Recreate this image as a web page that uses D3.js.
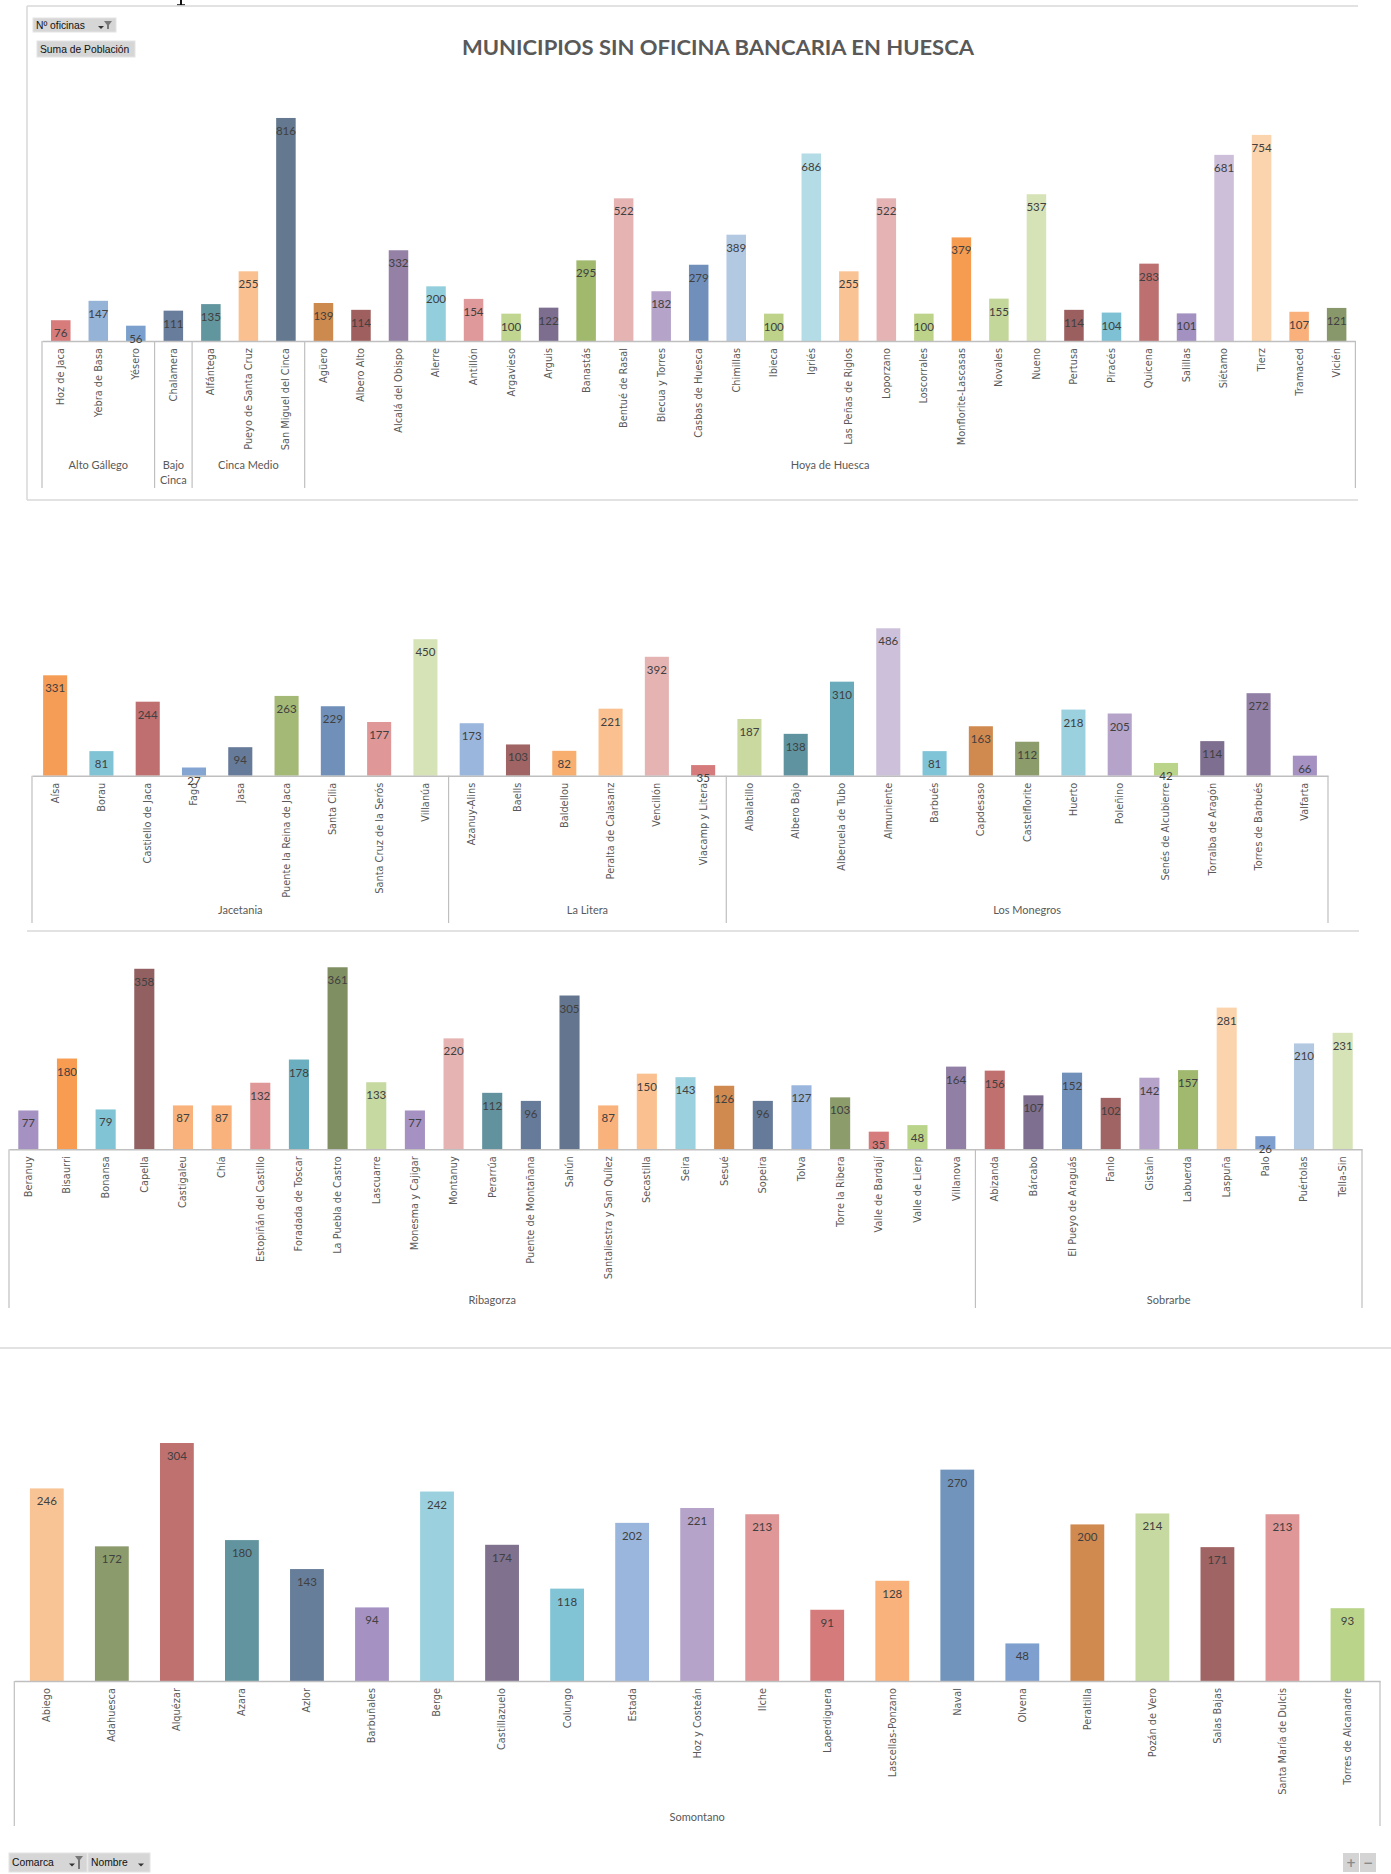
<!DOCTYPE html>
<html><head><meta charset="utf-8">
<script src="https://cdn.jsdelivr.net/npm/d3@7"></script>
<style>body{margin:0;background:#fff}svg{display:block}</style>
</head><body><svg id="c" width="1391" height="1874"></svg>
<script>
// ---------------- DATA ----------------
const title = "MUNICIPIOS SIN OFICINA BANCARIA EN HUESCA";

const names1 = ["Hoz de Jaca","Yebra de Basa","Yésero","Chalamera","Alfántega","Pueyo de Santa Cruz","San Miguel del Cinca","Agüero","Albero Alto","Alcalá del Obispo","Alerre","Antillón","Argavieso","Arguis","Banastás","Bentué de Rasal","Blecua y Torres","Casbas de Huesca","Chimillas","Ibieca","Igriés","Las Peñas de Riglos","Loporzano","Loscorrales","Monflorite-Lascasas","Novales","Nueno","Pertusa","Piracés","Quicena","Salillas","Siétamo","Tierz","Tramaced","Vicién"];
const values1 = [76,147,56,111,135,255,816,139,114,332,200,154,100,122,295,522,182,279,389,100,686,255,522,100,379,155,537,114,104,283,101,681,754,107,121];
const groups1 = ["Alto Gállego","Bajo Cinca","Cinca Medio","Hoya de Huesca"];
const groupSizes1 = [3,1,3,28];

const names2 = ["Aísa","Borau","Castiello de Jaca","Fago","Jasa","Puente la Reina de Jaca","Santa Cilia","Santa Cruz de la Serós","Villanúa","Azanuy-Alins","Baells","Baldellou","Peralta de Calasanz","Vencillón","Viacamp y Litera","Albalatillo","Albero Bajo","Alberuela de Tubo","Almuniente","Barbués","Capdesaso","Castelflorite","Huerto","Poleñino","Senés de Alcubierre","Torralba de Aragón","Torres de Barbués","Valfarta"];
const values2 = [331,81,244,27,94,263,229,177,450,173,103,82,221,392,35,187,138,310,486,81,163,112,218,205,42,114,272,66];
const groups2 = ["Jacetania","La Litera","Los Monegros"];
const groupSizes2 = [9,6,13];

const names3 = ["Beranuy","Bisaurri","Bonansa","Capella","Castigaleu","Chía","Estopiñán del Castillo","Foradada de Toscar","La Puebla de Castro","Lascuarre","Monesma y Cajigar","Montanuy","Perarrúa","Puente de Montañana","Sahún","Santaliestra y San Quílez","Secastilla","Seira","Sesué","Sopeira","Tolva","Torre la Ribera","Valle de Bardají","Valle de Lierp","Villanova","Abizanda","Bárcabo","El Pueyo de Araguás","Fanlo","Gistaín","Labuerda","Laspuña","Palo","Puértolas","Tella-Sin"];
const values3 = [77,180,79,358,87,87,132,178,361,133,77,220,112,96,305,87,150,143,126,96,127,103,35,48,164,156,107,152,102,142,157,281,26,210,231];
const groups3 = ["Ribagorza","Sobrarbe"];
const groupSizes3 = [25,10];

const names4 = ["Abiego","Adahuesca","Alquézar","Azara","Azlor","Barbuñales","Berge","Castillazuelo","Colungo","Estada","Hoz y Costeán","Ilche","Laperdiguera","Lascellas-Ponzano","Naval","Olvena","Peraltilla","Pozán de Vero","Salas Bajas","Santa María de Dulcis","Torres de Alcanadre"];
const values4 = [246,172,304,180,143,94,242,174,118,202,221,213,91,128,270,48,200,214,171,213,93];
const groups4 = ["Somontano"];
const groupSizes4 = [21];

// ---------------- STYLES ----------------
const colors1 = ["#d77b7b","#95b3d7","#7ba0cd","#687c9c","#62969f","#fac090","#64788f","#cc8a4f","#a05f5f","#9580a6","#93cedd","#e0999a","#c0d58f","#7d6e90","#a0b96d","#e6b3b3","#b5a3c9","#7090bb","#b3c9e2","#bed28a","#b3dce6","#fac394","#e5b3b3","#bed38a","#f59c51","#c4d79b","#d6e3b7","#9c5f5f","#7fc1d4","#bd7070","#a391c1","#cdbfd9","#fbd3ad","#f9b07b","#88986a"];
const colors2 = ["#f59d56","#80c3d5","#bf6f6f","#84a4d2","#667a99","#a3b975","#7090b9","#df9797","#d6e3b7","#9ab6dc","#a06464","#f8ae6e","#fac090","#e6b3b3","#d67b7b","#cad9a0","#5f939f","#69aabb","#ccc0da","#80c4d8","#d0894f","#8c9c6a","#9bd0de","#b5a3c9","#bad48a","#7e6e8f","#927fa6","#a591c2"];
const colors3 = ["#a591c2","#f79c50","#80c4d6","#926060","#f9b27b","#f9b27b","#df9797","#6aaebf","#808f62","#c6d9a0","#a591c2","#e6b3b3","#62929e","#667a99","#64768f","#f9b27b","#fac090","#9bd0de","#d0894f","#667a99","#9ab6dc","#8c9c6a","#d67b7b","#bad48a","#927fa6","#c0706f","#7e6e8f","#7090b9","#a06464","#b5a3c9","#a0b96e","#fbd3ad","#7f9fcf","#b3c9e2","#d6e3b7"];
const colors4 = ["#f9c495","#8b9b6b","#bf7170","#62949f","#677e9b","#a591c2","#9bd0de","#80718f","#80c4d6","#9ab6dc","#b5a3c9","#df9797","#d67b7b","#f9b27b","#7094bb","#7f9fcf","#d0894f","#c6d9a0","#a06464","#df9797","#bad48a"];

const catFont = "'DejaVu Sans', Verdana, sans-serif";
const numFont = "Lato, 'Liberation Sans', sans-serif";
const frameColor = "#d9d9d9";
const axisColor = "#bfbfbf";

const svg = d3.select("#c");

// stray descender of document text above the chart (drawn as a shape)
svg.append("path").attr("d","M180,0H182V4.2H185V5.6H177V4.2H180Z").attr("fill","#111");

// frames
const frames = [[27,6,1358,6],[27,6,27,500],[27,500,1358,500],[27,931,1359,931],[0,1348,1391,1348]];
svg.selectAll("line.frame").data(frames).join("line").attr("class","frame")
  .attr("x1",d=>d[0]).attr("y1",d=>d[1]).attr("x2",d=>d[2]).attr("y2",d=>d[3])
  .attr("stroke",frameColor).attr("stroke-width",1.5);

// title
svg.append("text").attr("x", 718).attr("y", 55).attr("text-anchor","middle")
  .attr("font-family","Lato, 'Open Sans', sans-serif").attr("font-weight","bold")
  .attr("font-size", 21).attr("fill","#595959")
  .attr("textLength", 512).attr("lengthAdjust","spacingAndGlyphs").text(title);

// buttons
function button(x, y, w, h, label, icon) {
  const g = svg.append("g");
  g.append("rect").attr("x",x).attr("y",y).attr("width",w).attr("height",h).attr("fill","#d6d6d6").attr("stroke","#e4e4e4");
  g.append("text").attr("x",x+3).attr("y",y+h/2).attr("dy","0.35em")
    .attr("font-family","'Liberation Sans', Arial, sans-serif").attr("font-size",10.3).attr("fill","#111").text(label);
  if (icon === "filter" || icon === "arrow") {
    const ax = icon === "filter" ? x + w - 15 : x + w - 9;
    g.append("path").attr("d",`M${ax-3},${y+h/2+1}L${ax+3},${y+h/2+1}L${ax},${y+h/2+4}Z`).attr("fill","#333");
    if (icon === "filter") {
      const fx = x + w - 8;
      g.append("path").attr("d",`M${fx-4},${y+3}L${fx+4},${y+3}L${fx+1},${y+7}L${fx+1},${y+h-3}L${fx-1},${y+h-3}L${fx-1},${y+7}Z`).attr("fill","#777");
    }
  }
}
button(33,18,83,14,"Nº oficinas","filter");
button(37,41,98,16,"Suma de Población",null);
button(9,1853,78,19,"Comarca","filter");
button(88,1853,62,19,"Nombre","arrow");
[["+",1343],["−",1360]].forEach(([s,x])=>{
  svg.append("rect").attr("x",x).attr("y",1853).attr("width",16).attr("height",19).attr("fill","#d4d4d4");
  svg.append("text").attr("x",x+8).attr("y",1863).attr("dy","0.35em").attr("text-anchor","middle")
    .attr("font-family","'DejaVu Sans', sans-serif").attr("font-size",12).attr("font-weight","bold").attr("fill","#8a8a8a").text(s);
});

// ---------------- PANELS ----------------
function drawPanel(p) {
  const x = d3.scaleBand().domain(p.names).range([p.x0, p.x1]).paddingInner(0.48).paddingOuter(0.24);
  const y = d3.scaleLinear().domain([0, p.yMax]).range([p.base, p.top]);
  const g = svg.append("g");
  const idx = d3.range(p.names.length);

  g.selectAll("rect.bar").data(idx).join("rect").attr("class","bar")
    .attr("x", i => x(p.names[i])).attr("width", x.bandwidth())
    .attr("y", i => y(p.values[i])).attr("height", i => y(0) - y(p.values[i]))
    .attr("fill", i => p.colors[i]);

  // axis with category labels
  const ax = g.append("g").attr("transform", `translate(0,${y(0)})`)
    .call(d3.axisBottom(x).tickSize(0).tickSizeOuter(0).tickPadding(0));
  ax.select(".domain").attr("stroke", axisColor).attr("stroke-width", 1.5);
  ax.selectAll(".tick text")
    .attr("transform","rotate(-90)").attr("text-anchor","end")
    .attr("x",-7).attr("y",0).attr("dy","0.35em")
    .attr("font-family",catFont).attr("font-size",9.8).attr("fill","#595959");

  // value labels
  g.selectAll("text.val").data(idx).join("text").attr("class","val")
    .attr("x", i => x(p.names[i]) + x.bandwidth()/2)
    .attr("y", i => y(p.values[i]) + 13).attr("dy","0.35em")
    .attr("text-anchor","middle").attr("font-family",numFont).attr("font-size",11.5)
    .attr("fill","#404040").text(i => p.values[i]);

  // group dividers and labels
  const step = x.step();
  const bounds = [0, ...d3.cumsum(p.sizes)];
  g.selectAll("line.div").data(bounds).join("line").attr("class","div")
    .attr("x1", b => p.x0 + b*step).attr("x2", b => p.x0 + b*step)
    .attr("y1", y(0)).attr("y2", p.divBottom)
    .attr("stroke", axisColor).attr("stroke-width", 1.2);
  p.groups.forEach((name, k) => {
    const cx = p.x0 + (bounds[k] + bounds[k+1]) / 2 * step;
    const w = (bounds[k+1] - bounds[k]) * step;
    const t = g.append("text").attr("x", cx).attr("y", p.groupY).attr("dy","0.35em")
      .attr("text-anchor","middle").attr("font-family",numFont).attr("font-size",11)
      .attr("fill","#595959").text(name);
    if (t.node().getComputedTextLength() > w - 4) {
      t.text(null);
      name.split(" ").forEach((word, j) => {
        t.append("tspan").attr("x", cx).attr("y", p.groupY + j*15).attr("dy","0.35em").text(word);
      });
    }
  });
}

drawPanel({names:names1, values:values1, groups:groups1, sizes:groupSizes1, colors:colors1,
  x0:42, x1:1355.4, base:341, top:95, yMax:900, groupY:465, divBottom:488});
drawPanel({names:names2, values:values2, groups:groups2, sizes:groupSizes2, colors:colors2,
  x0:32, x1:1328, base:775.7, top:593.7, yMax:600, groupY:910, divBottom:923});
drawPanel({names:names3, values:values3, groups:groups3, sizes:groupSizes3, colors:colors3,
  x0:9, x1:1362, base:1149.3, top:947.6, yMax:400, groupY:1300, divBottom:1308});
drawPanel({names:names4, values:values4, groups:groups4, sizes:groupSizes4, colors:colors4,
  x0:14.3, x1:1380, base:1681, top:1407, yMax:350, groupY:1817, divBottom:1826});
</script></body></html>
